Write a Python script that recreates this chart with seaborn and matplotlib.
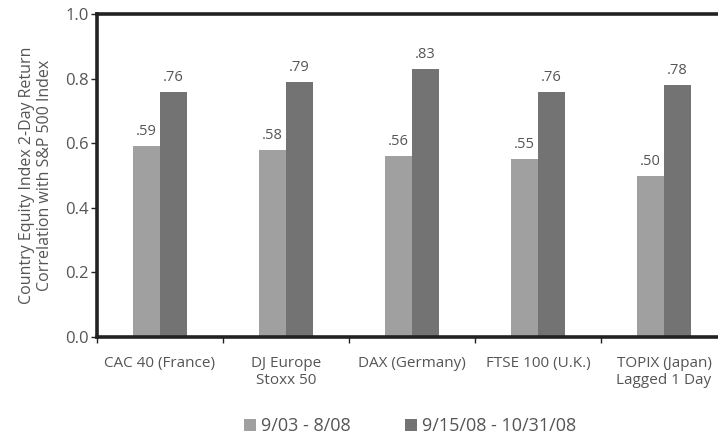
import pandas as pd
import seaborn as sns
import matplotlib.pyplot as plt
from matplotlib.ticker import FixedLocator

categories = ["CAC 40 (France)", "DJ Europe\nStoxx 50", "DAX (Germany)",
              "FTSE 100 (U.K.)", "TOPIX (Japan)\nLagged 1 Day"]
periods = ["9/03 - 8/08", "9/15/08 - 10/31/08"]
before = [0.59, 0.58, 0.56, 0.55, 0.50]
crisis = [0.76, 0.79, 0.83, 0.76, 0.78]

df = pd.DataFrame({
    "Index": categories * 2,
    "Period": [periods[0]] * 5 + [periods[1]] * 5,
    "Corr": before + crisis,
})

sns.set_style("white")
plt.rcParams["font.family"] = ["Open Sans", "DejaVu Sans"]
grey = "#555555"

fig = plt.figure(figsize=(7.18, 4.34), dpi=100)
# axes runs slightly past the right edge, like the original
ax = fig.add_axes([97 / 718, 97 / 434, 630 / 718, 323 / 434])

sns.barplot(data=df, x="Index", y="Corr", hue="Period", ax=ax,
            palette=["#a0a0a0", "#737373"], width=0.43, saturation=1,
            linewidth=0)

for cont in ax.containers:
    ax.bar_label(cont, fmt=lambda v: f"{v:.2f}".lstrip("0"), padding=5,
                 fontsize=10.5, color=grey)

ax.set_ylim(0, 1.0)
ax.set_xlim(-0.5, 4.5)
ax.set_yticks([0, 0.2, 0.4, 0.6, 0.8, 1.0])
ax.set_yticklabels(["0.0", "0.2", "0.4", "0.6", "0.8", "1.0"])
ax.set_xlabel("")
ax.set_ylabel("Country Equity Index 2-Day Return\nCorrelation with S&P 500 Index",
              fontsize=11.5, color=grey, labelpad=9, linespacing=1.1)

ax.xaxis.set_minor_locator(FixedLocator([-0.5, 0.5, 1.5, 2.5, 3.5]))
ax.tick_params(axis="x", which="major", length=0, pad=14, labelsize=11,
               colors=grey)
ax.tick_params(axis="x", which="minor", bottom=True, length=4, width=1,
               color="#222222")
ax.tick_params(axis="y", left=True, length=4, width=1, color="#222222",
               labelsize=12, labelcolor=grey, pad=2)

tl = ax.get_xticklabels()
tl[4].set_multialignment("right")
for t in tl:
    t.set_linespacing(1.1)

for side in ["left", "top", "bottom"]:
    ax.spines[side].set_visible(True)
    ax.spines[side].set_linewidth(2.6)
    ax.spines[side].set_color("#222222")
ax.spines["right"].set_visible(False)

leg = ax.legend(loc="center", bbox_to_anchor=(410 / 718, 8 / 434),
                bbox_transform=fig.transFigure, ncol=2, frameon=False,
                fontsize=13, handlelength=0.65, handleheight=0.65,
                handletextpad=0.3, columnspacing=3.0, borderpad=0)
for t in leg.get_texts():
    t.set_color(grey)

fig.savefig("out.png", dpi=100)
